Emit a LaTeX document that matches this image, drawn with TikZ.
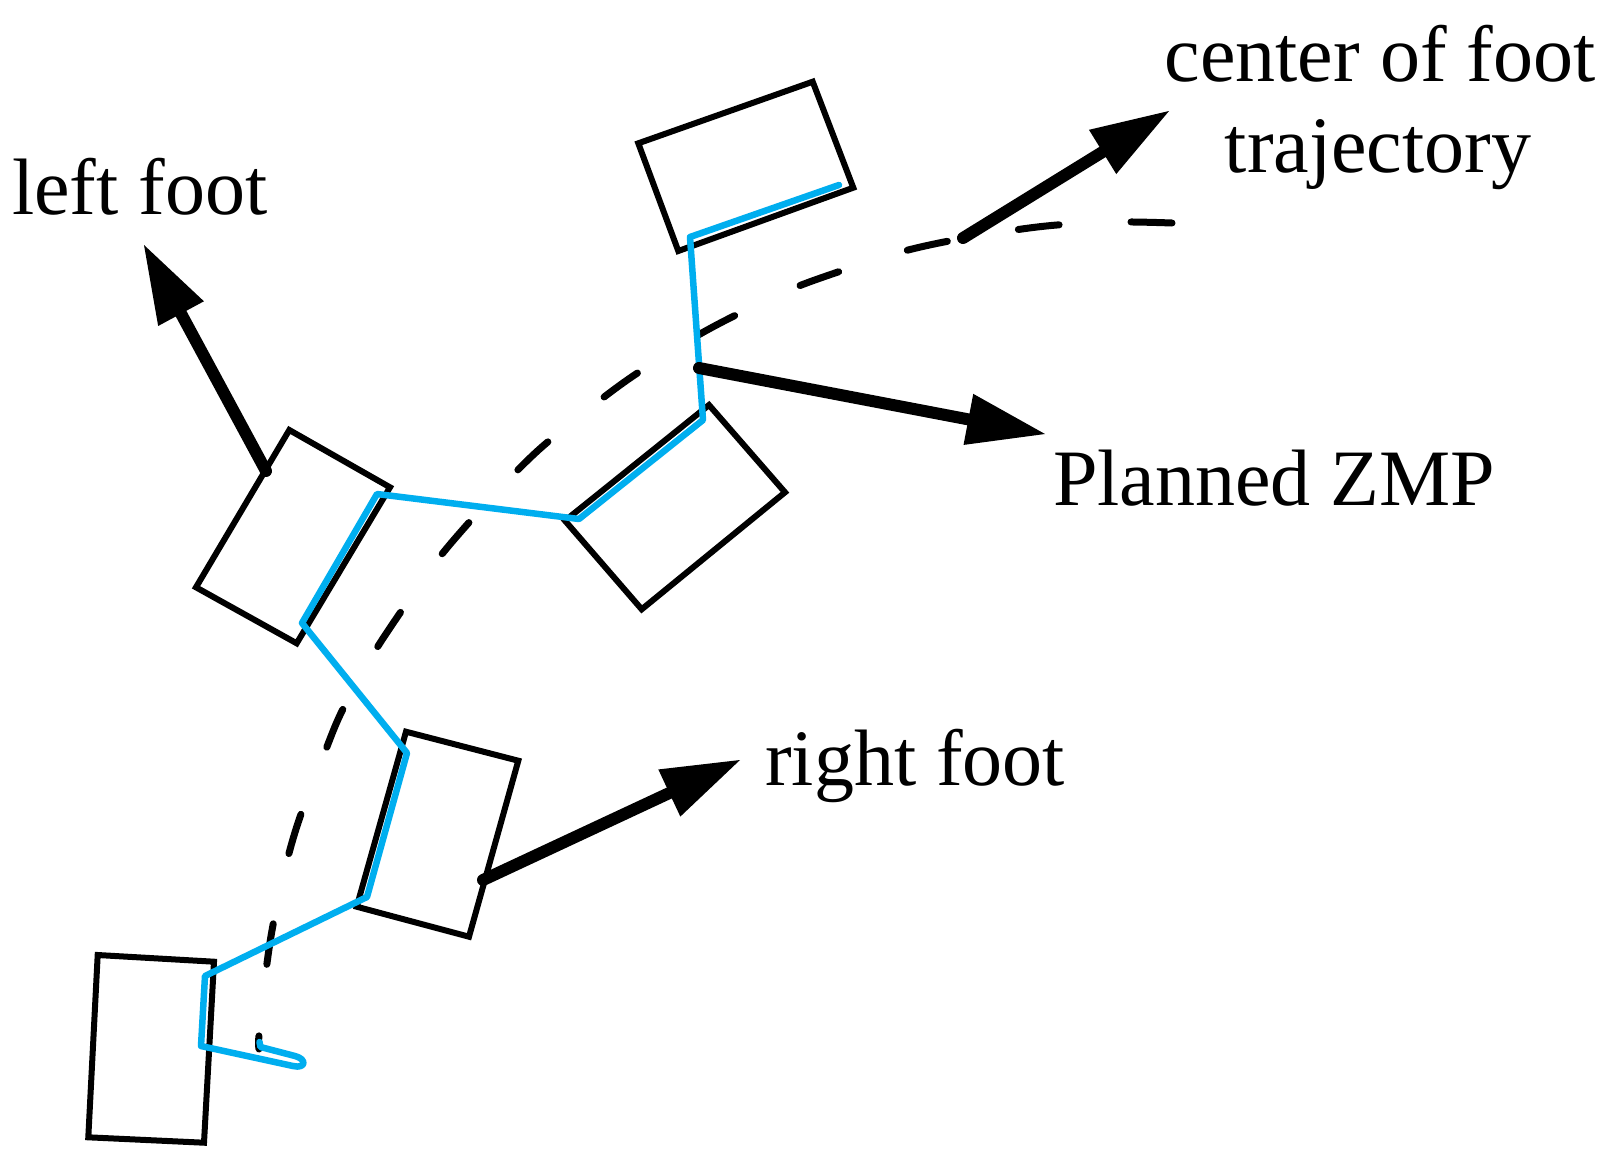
\documentclass[tikz,border=0pt]{standalone}
\usepackage{fontspec}
\setmainfont{Liberation Serif}
\usetikzlibrary{arrows.meta}
\definecolor{zmpblue}{RGB}{0,174,239}
\begin{document}
\begin{tikzpicture}[x=1pt,y=-1pt,
  foot/.style={draw=black,line width=6pt,line join=miter},
  zmpline/.style={draw=zmpblue,line width=6.5pt,line join=round,line cap=round},
  traj/.style={draw=black,line width=7pt,line cap=round,dash pattern=on 41pt off 72pt},
  bigarrow/.style={draw=black,line width=12pt,line cap=round,-{Triangle[length=78pt,width=52pt,line width=0pt]}},
  lbl/.style={font=\fontsize{80}{92}\selectfont,inner sep=0pt}]
\useasboundingbox[fill=white] (0,0) rectangle (1620,1160);

% feet
\draw[foot] (97.7,955) -- (214,961.7) -- (204,1142.7) -- (88.3,1137.3) -- cycle;
\draw[foot] (406,731.7) -- (518.3,760.7) -- (469,936.7) -- (356.7,906.7) -- cycle;
\draw[foot] (289.3,430) -- (390,487.3) -- (296.7,643.3) -- (196,587.3) -- cycle;
\draw[foot] (709,405) -- (785,492.3) -- (641.7,609.3) -- (565,520.7) -- cycle;
\draw[foot] (638.3,143.3) -- (812.7,81.7) -- (853.3,187.7) -- (678.3,251) -- cycle;

% centre of foot trajectory (dashed)
\draw[traj] plot[smooth,tension=0.5] coordinates {
  (1172,223) (1122,222) (1057,225) (1008,231) (944,242) (897,253) (835,273)
  (789,290) (730,318) (688,341) (633,376) (595,404) (543,446) (509,479)
  (465,527) (435,563) (398,616) (372,656) (341,713) (323,757) (300,817)
  (287,861) (273,925) (266,971) (259,1035) (259,1049)};

% planned ZMP (blue)
\draw[zmpline] (259.5,1042) -- (260.5,1047) -- (295,1056)
  .. controls (307,1059) and (306,1069) .. (293,1066)
  -- (201,1046) -- (205,976) -- (367,897) -- (407,753) -- (302,623)
  -- (377,494) -- (579,519) -- (703,420) -- (690,237) -- (839,185);

% arrows
\coordinate (lfs) at (266,471);  \coordinate (lft) at (144,245);
\coordinate (rfs) at (483,880);  \coordinate (rft) at (740,760);
\coordinate (zs)  at (699,368);  \coordinate (zt)  at (1045,434);
\coordinate (cs)  at (963,238);  \coordinate (ct)  at (1169,111);
\draw[bigarrow] (lfs) -- (lft);
\draw[bigarrow] (rfs) -- (rft);
\draw[bigarrow] (zs) -- (zt);
\draw[bigarrow] (cs) -- (ct);

% labels
\node[lbl,anchor=base west] (lf) at (12,214) {left foot};
\node[lbl,anchor=base west] (rf) at (765,785) {right foot};
\node[lbl,anchor=base west] (pz) at (1053,505) {Planned ZMP};
\node[lbl,anchor=base] (cf1) at (1380,81) {center of foot};
\node[lbl,anchor=base] (cf2) at (1378,172) {trajectory};
\end{tikzpicture}
\end{document}
